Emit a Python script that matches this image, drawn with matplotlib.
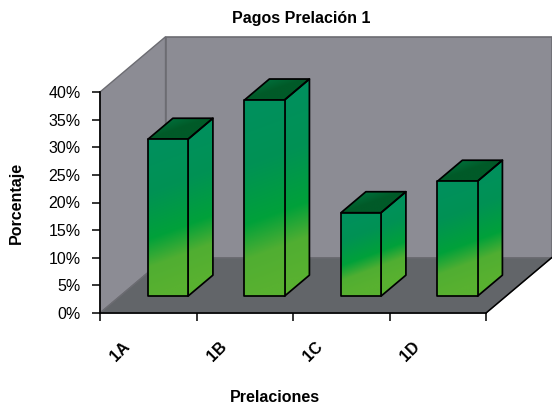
import matplotlib
matplotlib.use("Agg")
import matplotlib.pyplot as plt
import numpy as np
from matplotlib.colors import LinearSegmentedColormap
from matplotlib.patches import Polygon

plt.rcParams['font.family'] = ['Liberation Sans', 'DejaVu Sans']

# Data
categories = ['1A', '1B', '1C', '1D']
values = [28.4, 35.5, 15.1, 20.8]
y_ticks = [0, 5, 10, 15, 20, 25, 30, 35, 40]
y_labels = ['0%', '5%', '10%', '15%', '20%', '25%', '30%', '35%', '40%']

W, H = 552, 403
fig = plt.figure(figsize=(W / 100, H / 100), dpi=100)
ax = fig.add_axes([100 / W, 1 - 313 / H, 386 / W, 221 / H])

# depth of the fake 3D box, in data units
DX = 0.679
DY = 10.0
Z0, Z1 = 0.305, 0.685
BAR_W = 0.415
GAP = 0.29
SLANT = 2.7  # rise of the gradient bands across one bar width, in %

WALL = '#8c8c94'
FLOOR = '#626569'
FRAME = '#6c6c72'

bar_cmap = LinearSegmentedColormap.from_list('bar', [
    (0.0, '#00905f'), (0.35, '#009254'), (0.64, '#00a13a'),
    (0.82, '#50ae32'), (1.0, '#58b130')])
top_cmap = LinearSegmentedColormap.from_list('top', ['#007d48', '#005a28'])


def proj(x, z, y):
    return x + z * DX, y + z * DY


def box_poly(pts, **kw):
    p = Polygon(pts, closed=True, clip_on=False, **kw)
    ax.add_patch(p)
    return p


def grad_face(pts, cmap, anchor, tilt, span=None, zorder=3):
    # fill a polygon with a slanted gradient, then stroke it
    pts = np.array(pts)
    x0, x1 = pts[:, 0].min(), pts[:, 0].max()
    y0, y1 = pts[:, 1].min(), pts[:, 1].max()
    if span is None:
        span = (y0, y1)
    gx, gy = np.meshgrid(np.linspace(x0, x1, 80), np.linspace(y1, y0, 240))
    t = (span[1] - gy + tilt * (gx - anchor) / BAR_W) / (span[1] - span[0])
    im = ax.imshow(np.clip(t, 0, 1), cmap=cmap, vmin=0, vmax=1, aspect='auto',
                   extent=[x0, x1, y0, y1], zorder=zorder, interpolation='bilinear')
    clip = Polygon(pts, closed=True, transform=ax.transData)
    im.set_clip_path(clip)
    im.set_clip_box(fig.bbox)
    box_poly(pts, fill=False, edgecolor='black', linewidth=1.25, zorder=zorder + 0.5,
             joinstyle='round')


# walls and floor
box_poly([proj(0, 0, 0), proj(0, 1, 0), proj(0, 1, 40), proj(0, 0, 40)],
         facecolor=WALL, edgecolor=FRAME, linewidth=1.0, zorder=1)
box_poly([proj(0, 1, 0), proj(4, 1, 0), proj(4, 1, 40), proj(0, 1, 40)],
         facecolor=WALL, edgecolor=FRAME, linewidth=1.2, zorder=1)
box_poly([proj(0, 0, 0), proj(4, 0, 0), proj(4, 1, 0), proj(0, 1, 0)],
         facecolor=FLOOR, edgecolor=FRAME, linewidth=1.0, zorder=1.5)
# front right floor edge is black
ax.plot(*zip(proj(4, 0, 0), proj(4, 1, 0)), color='black', lw=1.1, clip_on=False, zorder=2)

for i, v in enumerate(values):
    left = i + GAP
    right = left + BAR_W
    base = 0
    # front face, coords projected at z0
    front = [proj(left, Z0, base), proj(right, Z0, base), proj(right, Z0, v), proj(left, Z0, v)]
    side = [proj(right, Z0, base), proj(right, Z1, base), proj(right, Z1, v), proj(right, Z0, v)]
    top = [proj(left, Z0, v), proj(right, Z0, v), proj(right, Z1, v), proj(left, Z1, v)]
    span = (front[0][1], front[2][1])
    grad_face(front, bar_cmap, front[0][0], SLANT, span=span, zorder=4)
    grad_face(side, bar_cmap, front[0][0], SLANT, span=span, zorder=3)
    grad_face(top, top_cmap, top[0][0], 2.5, zorder=3)

ax.set_xlim(0, 4)
ax.set_ylim(0, 40)
ax.patch.set_visible(False)
for s in ['top', 'right']:
    ax.spines[s].set_visible(False)
for s in ['left', 'bottom']:
    ax.spines[s].set_linewidth(1.2)
    ax.spines[s].set_zorder(6)

ax.set_yticks(y_ticks)
ax.set_yticklabels(y_labels, fontsize=11.5)
ax.set_xticks(range(5))
ax.set_xticklabels([])
ax.tick_params(length=5.5, width=1.1)
ax.tick_params(axis='y', pad=8.5)

# category labels sit rotated below the ticks
for i, c in enumerate(categories):
    ax.annotate(c, xy=(i + 0.5, 0), xytext=(-20, -28), textcoords='offset points',
                rotation=45, ha='center', va='center', fontsize=11.5, fontweight='bold',
                annotation_clip=False)

fig.text(301 / W, 1 - 19 / H, 'Pagos Prelación 1', ha='center', va='center',
         fontsize=11.5, fontweight='bold')
fig.text(275 / W, 1 - 397 / H, 'Prelaciones', ha='center', va='center',
         fontsize=11.5, fontweight='bold')
fig.text(16 / W, 1 - 203 / H, 'Porcentaje', ha='center', va='center', rotation=90,
         fontsize=11.5, fontweight='bold')

fig.savefig('out.png', dpi=100)
